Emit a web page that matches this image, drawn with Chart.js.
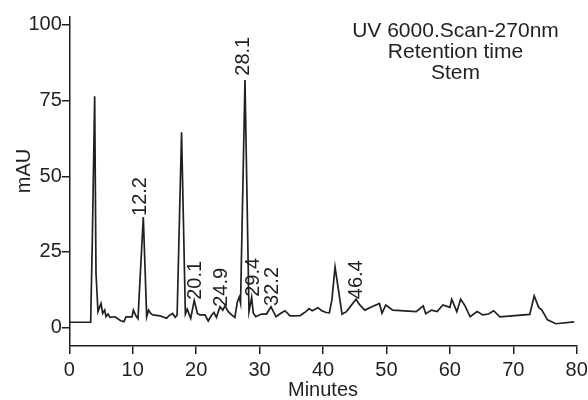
<!DOCTYPE html>
<html>
<head>
<meta charset="utf-8">
<script src="https://cdn.jsdelivr.net/npm/chart.js@4.4.1/dist/chart.umd.min.js"></script>
<style>
  html, body { margin: 0; padding: 0; background: #ffffff; }
  #wrap { width: 588px; height: 400px; position: relative; }
</style>
</head>
<body>
<div id="wrap"><canvas id="c" width="588" height="400"></canvas></div>
<script>
// ---- data ----
const times = [0, 3.37, 3.63, 4.0, 4.21, 4.52, 5.0, 5.26, 5.58, 5.79, 6.1, 6.42, 7.2, 8.1, 8.62, 8.94, 9.9, 10.1, 10.5, 10.83,
  11.67, 12.2, 12.5, 12.84, 13.15, 14.3, 15.35, 15.67, 16.3, 16.7, 17.0, 17.7, 18.3, 18.6, 19.14, 19.7, 20.2, 20.6, 21.4, 21.9,
  22.45, 22.8, 23.2, 23.76, 24.2, 24.55, 25.07, 25.6, 26.1, 26.5, 26.8, 27.0, 27.7, 28.33, 28.75, 29.0, 29.4, 30.3, 31.1, 31.8,
  32.6, 33.3, 34.0, 34.8, 36.4, 37.3, 37.8, 38.3, 39.2, 39.8, 40.5, 41.0, 41.4, 41.9, 43.0, 43.7, 45.2, 45.8, 46.6, 47.7,
  48.9, 49.3, 49.9, 51.0, 54.7, 55.8, 56.2, 57.1, 58.0, 58.9, 60.0, 60.3, 61.1, 61.7, 62.4, 63.2, 64.3, 65.2, 66.1, 66.9,
  67.9, 72.6, 73.3, 74.0, 74.5, 75.4, 76.7, 79.6];
const mAU = [1.8, 1.8, 29, 76.4, 18.0, 5.3, 8.0, 4.7, 5.8, 3.6, 4.5, 3.4, 3.6, 2.3, 2.0, 3.6, 3.6, 5.8, 3.9, 3.0,
  36.5, 3.6, 5.8, 4.7, 4.2, 3.9, 3.1, 3.9, 4.7, 3.4, 4.2, 64.5, 4.5, 6.1, 3.1, 9.0, 4.7, 4.2, 4.2, 2.2,
  4.2, 5.0, 3.4, 6.9, 5.8, 7.2, 5.3, 4.2, 3.4, 8.6, 10.1, 8.1, 81.8, 5.3, 10.0, 4.9, 3.6, 4.5, 4.5, 6.9,
  3.6, 4.7, 5.6, 3.9, 4.0, 5.3, 6.3, 5.6, 6.6, 5.6, 5.0, 4.9, 9.1, 20.0, 4.5, 5.3, 9.4, 7.5, 5.8, 6.9,
  8.0, 4.8, 7.5, 5.8, 5.3, 7.2, 4.6, 5.8, 5.3, 7.5, 6.7, 9.4, 5.3, 9.4, 7.2, 3.6, 5.3, 4.2, 4.5, 5.6,
  3.6, 4.4, 10.5, 6.7, 5.8, 2.6, 1.3, 1.9];
const xTickValues = [0, 10, 20, 30, 40, 50, 60, 70, 80];
const yTickValues = [0, 25, 50, 75, 100];
const peakLabels = ['12.2', '20.1', '24.9', '28.1', '29.4', '32.2', '46.4'];
const peakLabelTimes = [11.2, 19.87, 24.0, 27.4, 29.0, 31.96, 45.3];
const peakLabelLevels = [36.9, 9.2, 6.9, 83.2, 10.2, 7.2, 9.4];
const titleLines = ['UV 6000.Scan-270nm', 'Retention time', 'Stem'];
const xTitle = 'Minutes';
const yTitle = 'mAU';

// ---- styling ----
const INK = '#231f20';
const FONT = 'Liberation Sans, Arial, Helvetica, sans-serif';

const points = times.map((t, i) => ({ x: t, y: mAU[i] }));

const annotations = {
  id: 'annotations',
  afterDatasetsDraw(chart) {
    const ctx = chart.ctx;
    const xs = chart.scales.x, ys = chart.scales.y;
    ctx.save();
    ctx.fillStyle = INK;
    ctx.font = '20px ' + FONT;
    // rotated peak labels
    peakLabels.forEach((lab, i) => {
      const px = xs.getPixelForValue(peakLabelTimes[i]);
      const py = ys.getPixelForValue(peakLabelLevels[i]);
      ctx.save();
      ctx.translate(px, py);
      ctx.rotate(-Math.PI / 2);
      ctx.textAlign = 'left';
      ctx.textBaseline = 'middle';
      ctx.fillText(lab, 0, 0);
      ctx.restore();
    });
    // y axis title
    ctx.save();
    ctx.translate(24.8, 171);
    ctx.rotate(-Math.PI / 2);
    ctx.textAlign = 'center';
    ctx.textBaseline = 'middle';
    ctx.fillText(yTitle, 0, 0);
    ctx.restore();
    // title block
    ctx.font = '21px ' + FONT;
    ctx.textAlign = 'center';
    ctx.textBaseline = 'alphabetic';
    titleLines.forEach((ln, i) => {
      ctx.fillText(ln, 455.5, 37 + i * 21.2);
    });
    ctx.restore();
  }
};

new Chart(document.getElementById('c'), {
  type: 'line',
  data: {
    datasets: [{
      data: points,
      borderColor: INK,
      borderWidth: 1.7,
      pointRadius: 0,
      tension: 0,
      fill: false
    }]
  },
  options: {
    responsive: false,
    animation: false,
    devicePixelRatio: 1,
    layout: { padding: { top: 16.7, right: 11.3, bottom: 0, left: 0 } },
    plugins: { legend: { display: false }, tooltip: { enabled: false }, title: { display: false } },
    scales: {
      x: {
        type: 'linear',
        min: 0, max: 80,
        afterBuildTicks: s => { s.ticks = xTickValues.map(v => ({ value: v })); },
        afterFit: s => { s.height = 54; s.paddingLeft = 0; s.paddingRight = 0; },
        grid: { display: true, drawOnChartArea: false, drawTicks: true, tickLength: 8, color: INK, lineWidth: 1.5 },
        border: { display: true, color: INK, width: 1.5 },
        ticks: { color: INK, font: { family: FONT, size: 20 }, padding: 4, maxRotation: 0 },
        title: { display: true, text: xTitle, color: INK, font: { family: FONT, size: 20, lineHeight: 1 }, padding: 0 }
      },
      y: {
        type: 'linear',
        min: -6.05, max: 102.7,
        afterBuildTicks: s => { s.ticks = yTickValues.map(v => ({ value: v })); },
        afterFit: s => { s.width = 69.3; s.paddingTop = 0; s.paddingBottom = 0; },
        grid: { display: true, drawOnChartArea: false, drawTicks: true, tickLength: 7.5, color: INK, lineWidth: 1.5 },
        border: { display: true, color: INK, width: 1.5 },
        ticks: { color: INK, font: { family: FONT, size: 20 }, padding: 0 },
        title: { display: false }
      }
    }
  },
  plugins: [annotations]
});
</script>
</body>
</html>
